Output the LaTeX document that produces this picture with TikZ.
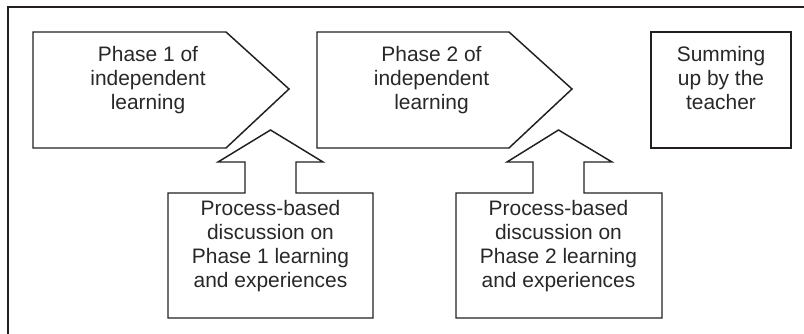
\documentclass[tikz,border=0pt]{standalone}
\usepackage{fontspec}
\setmainfont{Liberation Sans}
\definecolor{ink}{RGB}{35,31,32}
\definecolor{txt}{RGB}{40,40,40}
\begin{document}
\begin{tikzpicture}[x=0.75pt,y=-0.75pt,
  outline/.style={draw=ink,line width=1.1pt,line join=miter},
  lbl/.style={anchor=north,align=center,inner sep=0pt,text=txt,
    font=\fontsize{15.7}{18}\selectfont}]
\useasboundingbox (0,0) rectangle (804,334);
% frame
\draw[outline] (8,334) -- (8,7) -- (804,7);
% phase pentagons
\draw[outline] (33,32) -- (226,32) -- (289,89) -- (226,148) -- (33,148) -- cycle;
\draw[outline] (317,32) -- (509,32) -- (572,89) -- (509,148) -- (317,148) -- cycle;
% summing box
\draw[outline] (651,32) rectangle (791,148);
% discussion boxes with up arrows
\draw[outline] (168,318) -- (168,193) -- (245,193) -- (245,162) -- (218,162) -- (270.5,130)
  -- (323,162) -- (296,162) -- (296,193) -- (373,193) -- (373,318) -- cycle;
\draw[outline] (456,318) -- (456,193) -- (533,193) -- (533,162) -- (507,162) -- (558.5,130)
  -- (612,162) -- (584,162) -- (584,193) -- (662,193) -- (662,318) -- cycle;
% texts
\node[lbl] (p1) at (148,46) {Phase 1 of\\independent\\learning};
\node[lbl] (p2) at (431.5,46) {Phase 2 of\\independent\\learning};
\node[lbl] (sum) at (721,46) {Summing\\up by the\\teacher};
\node[lbl] (d1) at (270.5,200) {Process-based\\discussion on\\Phase 1 learning\\and experiences};
\node[lbl] (d2) at (558.5,200) {Process-based\\discussion on\\Phase 2 learning\\and experiences};
\end{tikzpicture}
\end{document}
